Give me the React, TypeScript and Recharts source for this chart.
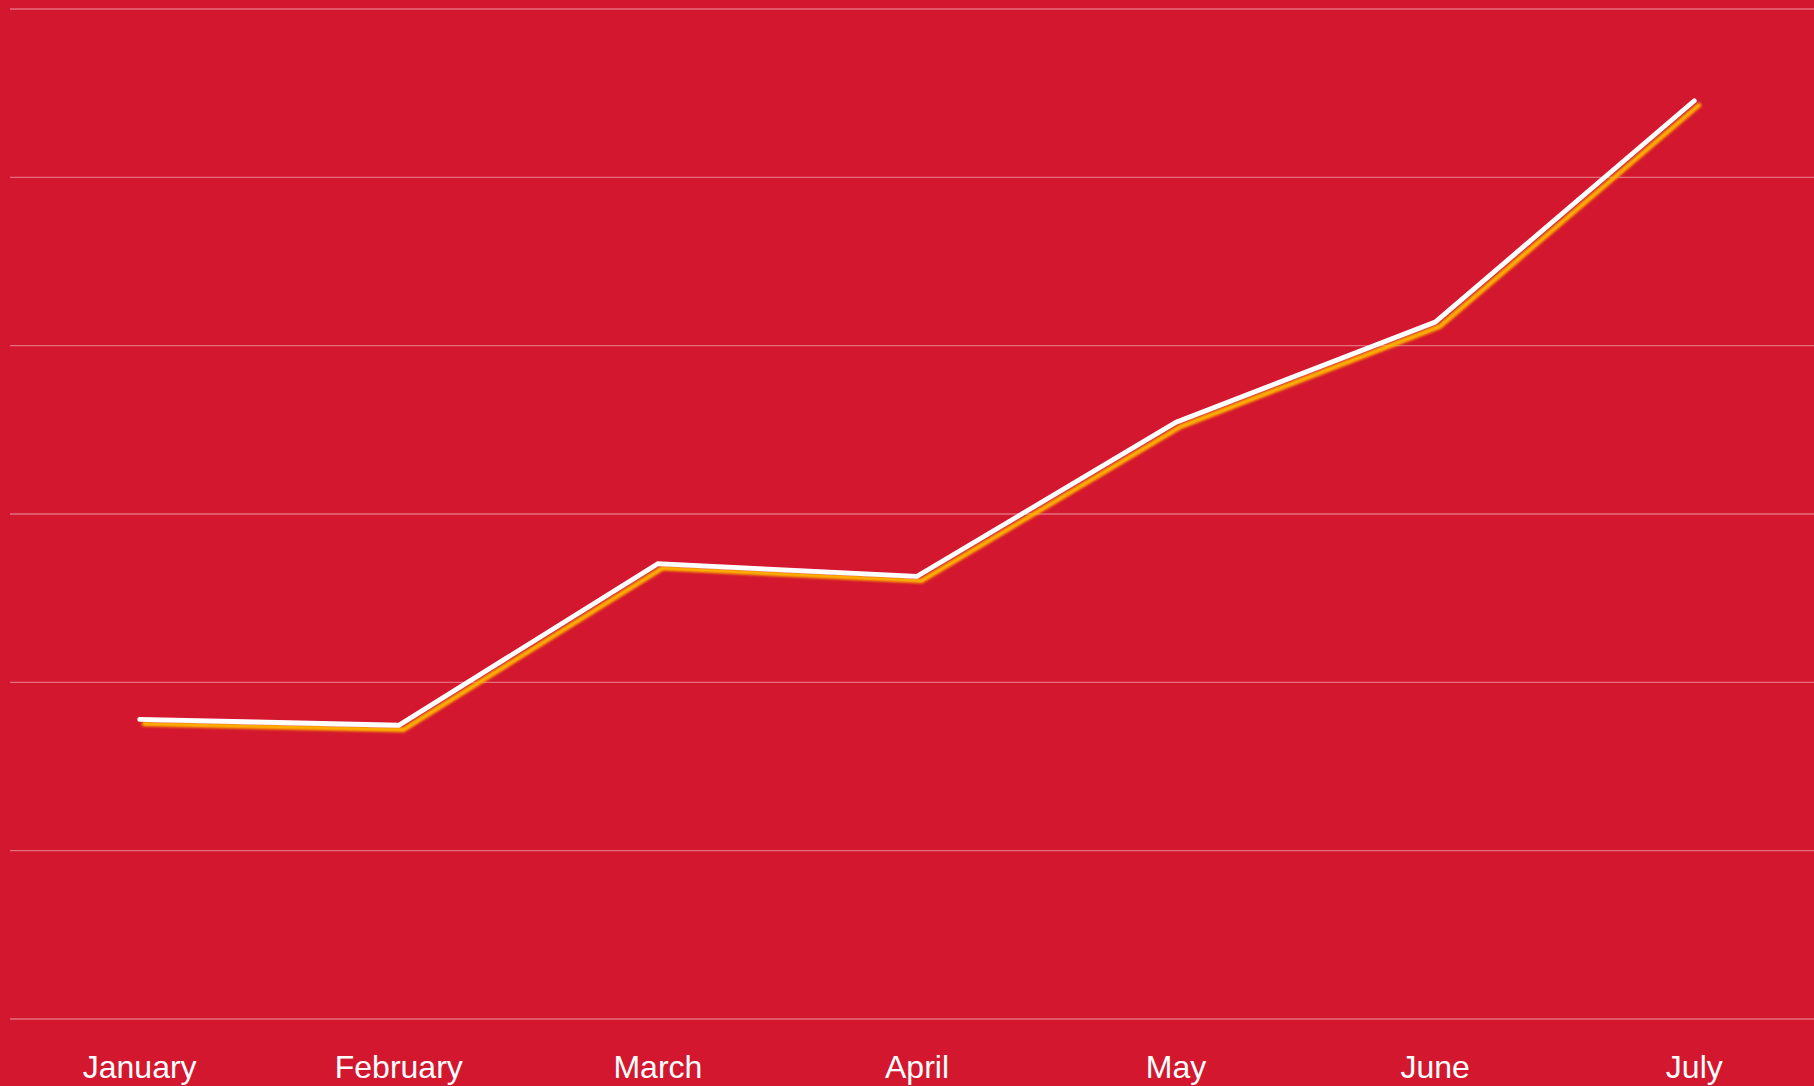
import React from "react";
import { LineChart, Line, XAxis, YAxis, CartesianGrid } from "recharts";

const months = ["January", "February", "March", "April", "May", "June", "July"];
const values = [17.8, 17.45, 27.05, 26.3, 35.45, 41.4, 54.55];
const yTicks = [0, 10, 20, 30, 40, 50, 60];

const data = months.map((m, i) => ({ month: m, value: values[i] }));

const BG = "#D3172E";

export default function App() {
  return (
    <div style={{ width: 1814, height: 1086, overflow: "hidden", background: BG, position: "relative" }}>
      <style>{`html,body{margin:0;padding:0;overflow:hidden;background:${BG};} .recharts-line-curve{filter:url(#lineShadow);}`}</style>
      <LineChart
        width={1830}
        height={1086}
        data={data}
        margin={{ top: 9, right: 6, bottom: 0, left: 10 }}
      >
        <defs>
          <filter id="lineShadow" filterUnits="userSpaceOnUse" x="0" y="0" width="1900" height="1100">
            <feDropShadow dx="4.5" dy="4.5" stdDeviation="1" floodColor="#FFB400" floodOpacity="1" />
          </filter>
        </defs>
        <CartesianGrid vertical={false} stroke="rgba(255,255,255,0.38)" strokeWidth={1.3} />
        <XAxis
          dataKey="month"
          axisLine={false}
          tickLine={false}
          tickSize={0}
          tickMargin={36}
          height={67}
          interval={0}
          padding={{ left: 129.7, right: 129.7 }}
          tick={{ fill: "#FFFFFF", fontSize: 32, fontFamily: "Liberation Sans, Arial, sans-serif" }}
        />
        <YAxis hide domain={[0, 60]} ticks={yTicks} />
        <Line
          type="linear"
          dataKey="value"
          stroke="#FFFFFF"
          strokeWidth={4.8}
          strokeLinecap="round"
          strokeLinejoin="miter"
          dot={false}
          activeDot={false}
          isAnimationActive={false}
        />
      </LineChart>
    </div>
  );
}
